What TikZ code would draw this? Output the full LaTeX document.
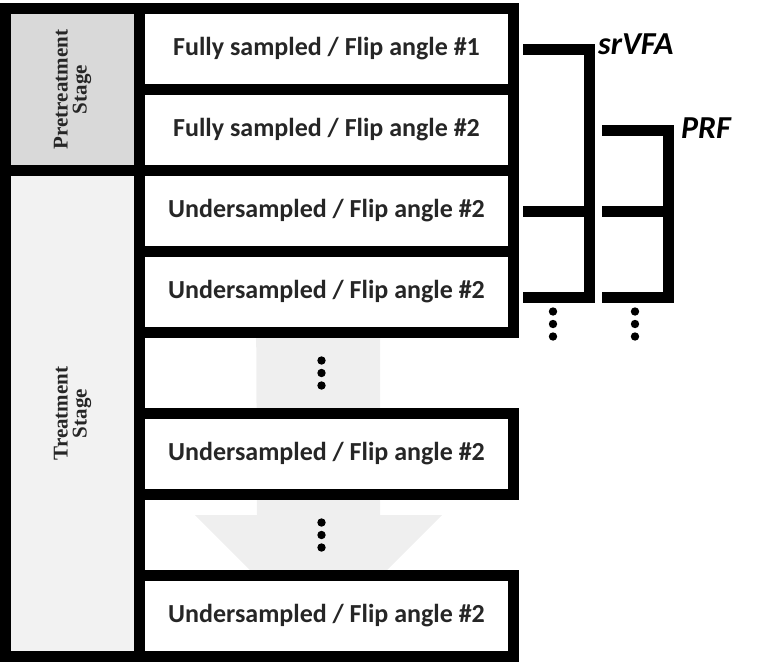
\documentclass[tikz,border=0pt]{standalone}
\usepackage{fontspec}
\setmainfont{Carlito}
\newfontfamily\stagefont{Liberation Serif}
\usetikzlibrary{positioning,calc,backgrounds}
\definecolor{pre}{RGB}{217,217,217}
\definecolor{trt}{RGB}{242,242,242}
\definecolor{flow}{RGB}{239,239,239}
\definecolor{ink}{RGB}{38,38,38}

\begin{document}
\begin{tikzpicture}[x=1pt,y=-1pt,
  row/.style={draw=black,fill=white,line width=11pt,outer sep=0pt,inner sep=0pt,minimum width=374pt,minimum height=81pt,font=\bfseries\fontsize{26}{30}\selectfont,text=ink},
  gap/.style={outer sep=0pt,inner sep=0pt,minimum width=374pt,minimum height=81pt},
  stage/.style={draw=black,line width=11pt,outer sep=0pt,inner sep=0pt,minimum width=134pt,align=center,text=ink,font=\stagefont\bfseries\fontsize{21}{23}\selectfont},
  brk/.style={line width=11pt,black},
  lbl/.style={font=\bfseries\itshape\fontsize{32}{36}\selectfont,inner sep=0pt}]
  \useasboundingbox (0,0) rectangle (763,662);
  \node[row] (b1) at (326.5,49) {Fully sampled / Flip angle \#1};
  \node[row,below=0pt of b1] (b2) {Fully sampled / Flip angle \#2};
  \node[row,below=0pt of b2] (b3) {Undersampled / Flip angle \#2};
  \node[row,below=0pt of b3] (b4) {Undersampled / Flip angle \#2};
  \node[gap,below=0pt of b4] (g1) {};
  \node[row,below=0pt of g1] (b5) {Undersampled / Flip angle \#2};
  \node[gap,below=0pt of b5] (g2) {};
  \node[row,below=0pt of g2] (b6) {Undersampled / Flip angle \#2};
  \node[stage,fill=pre,minimum height=162pt,anchor=north east] (pre) at (b1.north west) {\rotatebox{90}{\begin{tabular}{@{}c@{}}Pretreatment\\[-4pt]Stage\end{tabular}}};
  \node[stage,fill=trt,minimum height=486pt,below=0pt of pre] (trt) {\rotatebox{90}{\begin{tabular}{@{}c@{}}Treatment\\[-4pt]Stage\end{tabular}}};
  % flow arrow behind the rows
  \begin{scope}[on background layer]
    \fill[flow] ($(b4.center)+(-70.5,0)$) -- ++(124,0) -- ++(0,223) -- ++(62,0)
      -- ++(-123.5,123.5) -- ++(-123.5,-123.5) -- ++(62,0) -- cycle;
  \end{scope}
  % brackets
  \coordinate (v1) at ([xshift=75.5pt]b1.east);
  \coordinate (p1) at ([xshift=154.5pt]b2.east);
  \draw[brk] ([xshift=9.5pt]b1.east) -- (v1) |- ([xshift=9.5pt,yshift=-5pt]b4.east);
  \draw[brk] ([xshift=9.5pt]b3.east) -- (v1 |- b3.east);
  \draw[brk] ([xshift=88.5pt]b2.east) -- (p1) |- ([xshift=88.5pt,yshift=-5pt]b4.east);
  \draw[brk] ([xshift=88.5pt]b3.east) -- (p1 |- b3.east);
  \node[lbl,anchor=west] (vfa) at ([xshift=9pt,yshift=5pt]v1) {srVFA};
  \node[lbl,anchor=west] (prf) at ([xshift=13pt,yshift=2pt]p1) {PRF};
  % dots
  \coordinate (dm1) at ([xshift=-5pt]g1.center);
  \coordinate (dm2) at ([xshift=-5pt]g2.center);
  \coordinate (dr1) at ([xshift=39.5pt,yshift=-32pt]b4.east);
  \coordinate (dr2) at ([xshift=121.5pt,yshift=-32pt]b4.east);
  \foreach \n in {dm1,dm2,dr1,dr2}
    \foreach \d in {-12.5,0,12.5}
      \fill ([yshift=\d pt]\n) circle (4.2pt);
\end{tikzpicture}
\end{document}
